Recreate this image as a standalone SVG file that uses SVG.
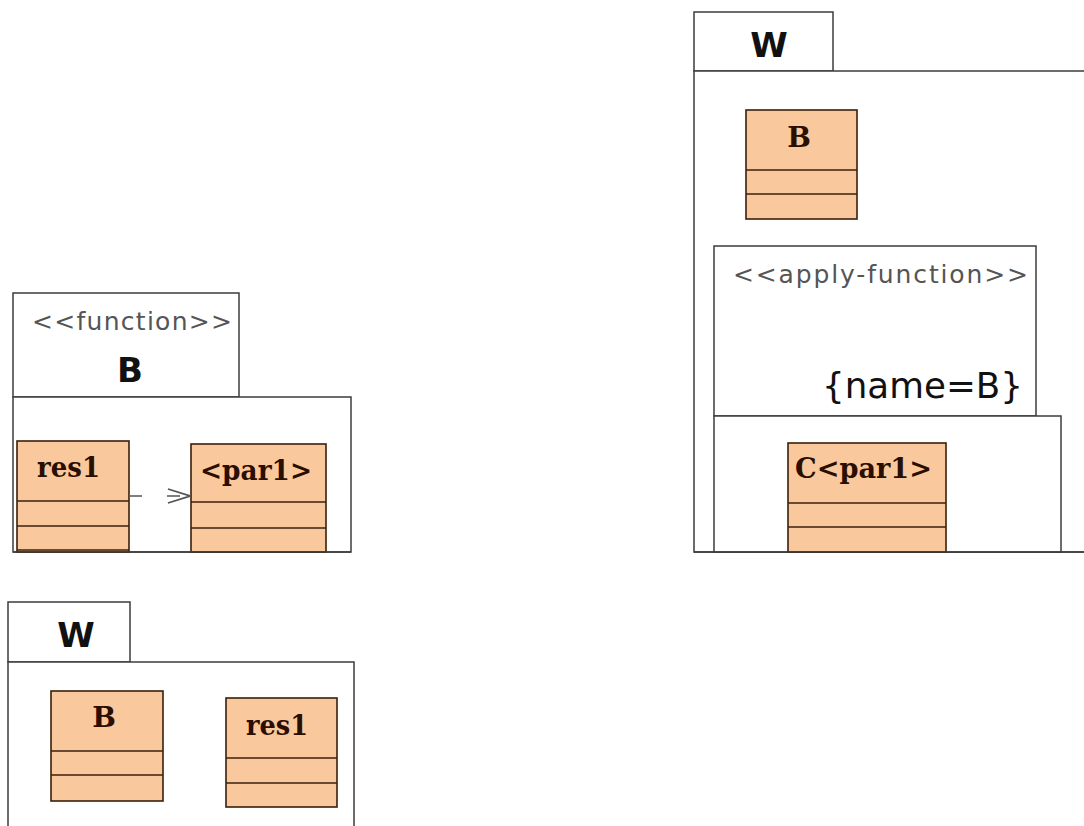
<svg xmlns="http://www.w3.org/2000/svg" width="1084" height="826" viewBox="0 0 1084 826">
<defs>
<style>
.pkg{fill:#ffffff;stroke:#3c3c3c;stroke-width:1.5}
.cls{fill:#f9c89c;stroke:#3a200c;stroke-width:1.6}
.div{stroke:#3a200c;stroke-width:1.6}
.ster{font-family:"DejaVu Sans","Liberation Sans",sans-serif;font-size:25px;fill:#555555}
.pname{font-family:"DejaVu Sans","Liberation Sans",sans-serif;font-weight:bold;fill:#111111;text-anchor:middle}
.cname{font-family:"DejaVu Serif","Liberation Serif",serif;font-weight:bold;font-size:28px;fill:#2a0e00}
.conn{fill:none;stroke:#555555;stroke-width:1.6}
</style>
<marker id="open" viewBox="0 0 24 16" refX="23" refY="8" markerWidth="24" markerHeight="16" markerUnits="userSpaceOnUse" orient="auto">
<path d="M1,1 L23,8 L1,15" fill="none" stroke="#555555" stroke-width="1.8"/>
</marker>
</defs>
<rect width="1084" height="826" fill="#ffffff"/>

<g id="function-B">
<rect class="pkg" x="13" y="293" width="226" height="104"/>
<rect class="pkg" x="13" y="397" width="338" height="155"/>
<text class="ster" x="32" y="330" textLength="200" lengthAdjust="spacing">&lt;&lt;function&gt;&gt;</text>
<text class="pname" x="130" y="382" font-size="34">B</text>
</g>

<g id="res1-in-B">
<rect class="cls" x="17" y="441" width="112" height="111"/>
<line class="div" x1="17" y1="501" x2="129" y2="501"/>
<line class="div" x1="17" y1="526" x2="129" y2="526"/>
<line class="div" x1="17" y1="550" x2="129" y2="550"/>
<text class="cname" x="37" y="477" textLength="63" lengthAdjust="spacingAndGlyphs">res1</text>
</g>

<g id="par1-in-B">
<rect class="cls" x="191" y="444" width="135" height="108"/>
<line class="div" x1="191" y1="502" x2="326" y2="502"/>
<line class="div" x1="191" y1="528" x2="326" y2="528"/>
<text class="cname" x="200" y="480" textLength="112" lengthAdjust="spacingAndGlyphs">&lt;par1&gt;</text>
</g>
<line x1="13" y1="552" x2="351" y2="552" stroke="#3c3c3c" stroke-width="1.5"/>

<g id="W-left">
<rect class="pkg" x="8" y="602" width="122" height="60"/>
<rect class="pkg" x="8" y="662" width="346" height="170"/>
<text class="pname" x="76" y="647" font-size="34">W</text>
</g>

<g id="B-in-W-left">
<rect class="cls" x="51" y="691" width="112" height="110"/>
<line class="div" x1="51" y1="751" x2="163" y2="751"/>
<line class="div" x1="51" y1="775" x2="163" y2="775"/>
<text class="cname" x="104" y="727" text-anchor="middle" font-size="24">B</text>
</g>

<g id="res1-in-W-left">
<rect class="cls" x="226" y="698" width="111" height="109"/>
<line class="div" x1="226" y1="758" x2="337" y2="758"/>
<line class="div" x1="226" y1="783" x2="337" y2="783"/>
<text class="cname" x="246" y="735" textLength="62" lengthAdjust="spacingAndGlyphs">res1</text>
</g>

<g id="W-right">
<rect class="pkg" x="694" y="12" width="139" height="59"/>
<rect class="pkg" x="694" y="71" width="400" height="481"/>
<text class="pname" x="769" y="57" font-size="34">W</text>
</g>

<g id="B-in-W-right">
<rect class="cls" x="746" y="110" width="111" height="109"/>
<line class="div" x1="746" y1="170" x2="857" y2="170"/>
<line class="div" x1="746" y1="194" x2="857" y2="194"/>
<text class="cname" x="799" y="147" text-anchor="middle" font-size="24">B</text>
</g>

<g id="apply-function">
<rect class="pkg" x="714" y="246" width="322" height="170"/>
<rect class="pkg" x="714" y="416" width="347" height="136"/>
<text class="ster" x="733" y="283" font-size="26" textLength="295" lengthAdjust="spacing">&lt;&lt;apply-function&gt;&gt;</text>
<text x="822" y="398" font-family="DejaVu Sans,Liberation Sans,sans-serif" font-size="35" fill="#111111" textLength="201" lengthAdjust="spacingAndGlyphs">{name=B}</text>
</g>

<g id="C-par1">
<rect class="cls" x="788" y="443" width="158" height="109"/>
<line class="div" x1="788" y1="503" x2="946" y2="503"/>
<line class="div" x1="788" y1="527" x2="946" y2="527"/>
<text class="cname" x="795" y="478" textLength="137" lengthAdjust="spacingAndGlyphs">C&lt;par1&gt;</text>
</g>
<line x1="694" y1="552" x2="1084" y2="552" stroke="#3c3c3c" stroke-width="1.5"/>

<g id="connectors">
<line class="conn" x1="129" y1="496" x2="190" y2="496" stroke-dasharray="13 25" marker-end="url(#open)"/>
</g>
</svg>
